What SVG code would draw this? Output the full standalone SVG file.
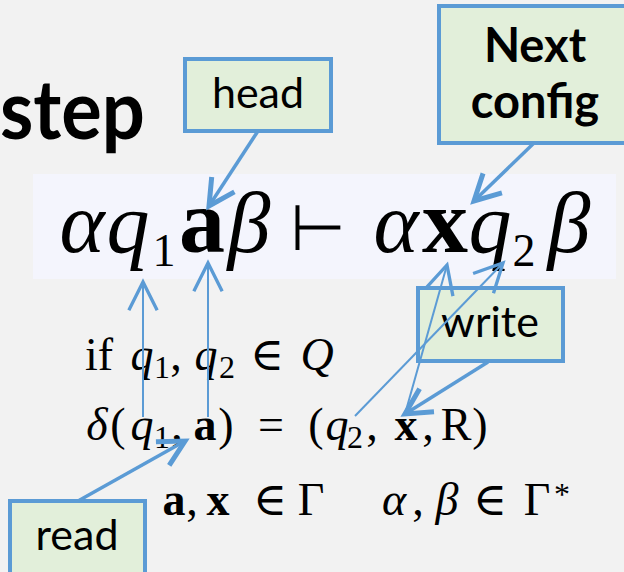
<svg xmlns="http://www.w3.org/2000/svg" width="624" height="572" viewBox="0 0 624 572">
<style>
.box{fill:#e2efda;stroke:#5b9bd5;stroke-width:4}
.lbl{font-family:Lato,"Liberation Sans",sans-serif;fill:#000;text-anchor:middle}
.m{font-family:"Liberation Serif","DejaVu Serif",serif;fill:#000;text-anchor:middle}
.i{font-style:italic}
.b{font-weight:bold}
.thin{stroke:#5b9bd5;stroke-width:2;fill:none}
.thick{stroke:#5b9bd5;stroke-width:3.5;fill:none}
</style>
<defs>
<marker id="ahThin" markerUnits="userSpaceOnUse" markerWidth="40" markerHeight="40" viewBox="-20 -12 24 24" refX="0" refY="0" orient="auto">
<path d="M-17,-8.5 L0,0 L-17,8.5" fill="none" stroke="#5b9bd5" stroke-width="2"/>
</marker>
<marker id="ahThick" markerUnits="userSpaceOnUse" markerWidth="40" markerHeight="40" viewBox="-22 -14 26 28" refX="0" refY="0" orient="auto">
<path d="M-18,-9.5 L0,0 L-18,9.5" fill="none" stroke="#5b9bd5" stroke-width="3.5"/>
</marker>
</defs>
<rect x="0" y="0" width="624" height="572" fill="#f2f2f2"/>
<text x="0" y="139" font-family="Lato,'Liberation Sans',sans-serif" font-weight="bold" font-size="82" textLength="145" lengthAdjust="spacingAndGlyphs" fill="#000">step</text>
<rect id="formula-bg" x="33" y="174" width="583" height="105" fill="#f4f5fd"/>
<g id="formula">
<text class="m" font-size="86" y="252"><tspan class="i" x="82">α</tspan><tspan class="i" x="128">q</tspan><tspan class="b" x="202" font-size="92">a</tspan><tspan class="i" x="249" font-size="86">β</tspan><tspan x="318" font-family="DejaVu Sans,sans-serif" font-size="64" y="250">⊢</tspan><tspan class="i" x="396" y="252" font-size="86">α</tspan><tspan class="b" x="445" font-size="92">x</tspan><tspan class="i" x="490" font-size="86">q</tspan><tspan class="i" x="569">β</tspan></text>
<text class="m" font-size="46" y="266"><tspan x="164">1</tspan><tspan x="524">2</tspan></text>
</g>
<g id="conditions">
<text class="m" font-size="46" y="370"><tspan x="99">if</tspan><tspan class="i" x="142">q</tspan><tspan x="176">,</tspan><tspan class="i" x="206">q</tspan><tspan x="267">∈</tspan><tspan class="i" x="317">Q</tspan></text>
<text class="m" font-size="32" y="378"><tspan x="162">1</tspan><tspan x="227">2</tspan></text>
<text class="m" font-size="46" y="440"><tspan class="i" x="97">δ</tspan><tspan x="118">(</tspan><tspan class="i" x="142">q</tspan><tspan x="177">,</tspan><tspan class="b" x="205">a</tspan><tspan x="226">)</tspan><tspan x="271">=</tspan><tspan x="316">(</tspan><tspan class="i" x="337">q</tspan><tspan x="372">,</tspan><tspan class="b" x="406">x</tspan><tspan x="428">,</tspan><tspan x="456">R</tspan><tspan x="480">)</tspan></text>
<text class="m" font-size="32" y="448"><tspan x="162">1</tspan><tspan x="355">2</tspan></text>
<text class="m" font-size="46" y="515"><tspan class="b" x="174">a</tspan><tspan x="192">,</tspan><tspan class="b" x="218">x</tspan><tspan x="270">∈</tspan><tspan x="311">Γ</tspan><tspan class="i" x="394">α</tspan><tspan x="418">,</tspan><tspan class="i" x="447">β</tspan><tspan x="490">∈</tspan><tspan x="537">Γ</tspan></text>
<text class="m" font-size="32" x="562" y="505">*</text>
</g>
<g id="head">
<rect class="box" x="185" y="59" width="146" height="72"/>
<text class="lbl" x="258" y="108" font-size="43">head</text>
</g>
<g id="next-config">
<rect class="box" x="439" y="6" width="200" height="137"/>
<text class="lbl" x="535" y="62" font-size="47" font-weight="bold">Next</text>
<text class="lbl" x="535" y="118" font-size="47" font-weight="bold">config</text>
</g>
<g id="write">
<rect class="box" x="418" y="288" width="145" height="73"/>
<text class="lbl" x="490" y="337" font-size="43">write</text>
</g>
<g id="read">
<rect class="box" x="10" y="501" width="135" height="80"/>
<text class="lbl" x="77" y="550" font-size="43">read</text>
</g>
<g id="connectors">
<line class="thick" x1="258" y1="131" x2="209" y2="206" marker-end="url(#ahThick)"/>
<line class="thick" x1="534" y1="143" x2="474" y2="201" marker-end="url(#ahThick)"/>
<line class="thick" x1="78" y1="501" x2="185" y2="441" marker-end="url(#ahThick)"/>
<line class="thick" x1="488" y1="362" x2="405" y2="414" marker-end="url(#ahThick)"/>
<line class="thin" x1="143" y1="417" x2="143" y2="282" marker-end="url(#ahThin)"/>
<line class="thin" x1="208" y1="417" x2="208" y2="263" marker-end="url(#ahThin)"/>
<line class="thin" x1="405" y1="414" x2="447" y2="265" marker-end="url(#ahThin)"/>
<line class="thin" x1="355" y1="416" x2="503" y2="263" marker-end="url(#ahThin)"/>
</g>
</svg>
